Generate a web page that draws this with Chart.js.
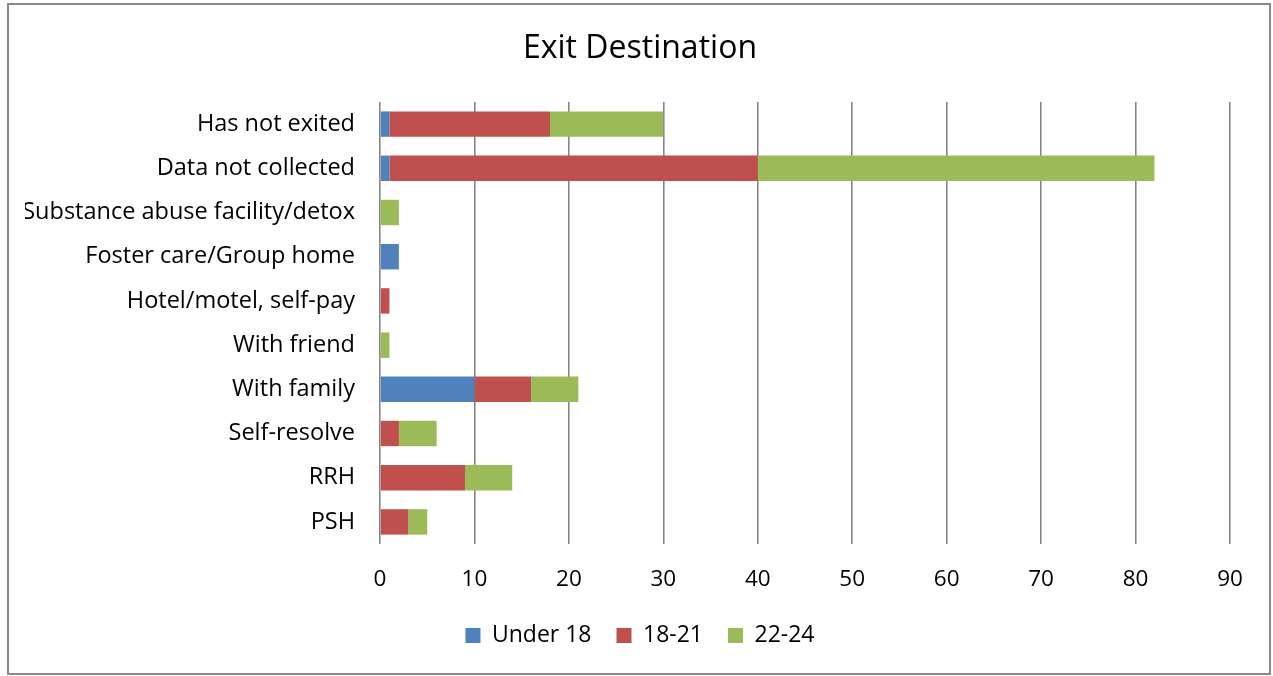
<!DOCTYPE html>
<html>
<head>
<meta charset="utf-8">
<script src="https://cdn.jsdelivr.net/npm/chart.js@4"></script>
<style>
  html, body { margin: 0; padding: 0; background: #fff; }
  #wrap { position: absolute; left: 0; top: 0; width: 1273px; height: 676px; }
</style>
</head>
<body>
<div id="wrap"><canvas id="c" width="1273" height="676"></canvas></div>
<script>
const categories = ["Has not exited", "Data not collected", "Substance abuse facility/detox", "Foster care/Group home", "Hotel/motel, self-pay", "With friend", "With family", "Self-resolve", "RRH", "PSH"];
const under18 = [1, 1, 0, 2, 0, 0, 10, 0, 0, 0];
const age18to21 = [17, 39, 0, 0, 1, 0, 6, 2, 9, 3];
const age22to24 = [12, 42, 2, 0, 0, 1, 5, 4, 5, 2];
const seriesNames = ["Under 18", "18-21", "22-24"];
const xTicks = [0, 10, 20, 30, 40, 50, 60, 70, 80, 90];
const titleText = "Exit Destination";

const FONT = "'Open Sans', 'DejaVu Sans', sans-serif";
const GRID = "#868686";

const borderPlugin = {
  id: 'outerBorder',
  beforeDraw(chart) {
    const ctx = chart.ctx;
    ctx.save();
    ctx.fillStyle = '#fff';
    ctx.fillRect(0, 0, chart.width, chart.height);
    ctx.strokeStyle = '#898989';
    ctx.lineWidth = 2;
    ctx.strokeRect(8, 4, 1262, 670);
    ctx.restore();
  }
};

new Chart(document.getElementById('c'), {
  type: 'bar',
  data: {
    labels: categories,
    datasets: [
      { label: seriesNames[0], data: under18, backgroundColor: '#4F81BD', borderWidth: 0 },
      { label: seriesNames[1], data: age18to21, backgroundColor: '#C0504D', borderWidth: 0 },
      { label: seriesNames[2], data: age22to24, backgroundColor: '#9BBB59', borderWidth: 0 }
    ]
  },
  options: {
    indexAxis: 'y',
    responsive: false,
    animation: false,
    devicePixelRatio: 1,
    datasets: { bar: { categoryPercentage: 1, barPercentage: 0.575 } },
    layout: { padding: { left: 25, right: 18, top: 0, bottom: 19 } },
    plugins: {
      title: {
        display: true,
        text: titleText,
        color: '#000',
        font: { family: FONT, size: 32, weight: 'normal' },
        padding: { top: 30, bottom: 33.6 }
      },
      legend: {
        position: 'bottom',
        labels: {
          color: '#000',
          font: { family: FONT, size: 23 },
          boxWidth: 15,
          boxHeight: 15,
          padding: 25
        }
      },
      tooltip: { enabled: false }
    },
    scales: {
      x: {
        stacked: true,
        min: 0,
        max: 90,
        afterBuildTicks(s) { s.ticks = xTicks.map(v => ({ value: v })); },
        afterFit(s) { s.height = 55; },
        grid: { color: GRID, lineWidth: 1.6, drawTicks: false },
        border: { display: false },
        ticks: { color: '#000', font: { family: FONT, size: 22.5 }, padding: 22.5 }
      },
      y: {
        stacked: true,
        afterFit(s) { s.width = 355; },
        grid: { display: false },
        border: { display: false },
        ticks: { color: '#000', font: { family: FONT, size: 23.5 }, padding: 17, autoSkip: false }
      },
      yRight: {
        type: 'linear',
        position: 'right',
        display: true,
        afterFit(s) { s.width = 25; },
        grid: { display: false },
        border: { display: false },
        ticks: { display: false }
      }
    }
  },
  plugins: [borderPlugin]
});
</script>
</body>
</html>
